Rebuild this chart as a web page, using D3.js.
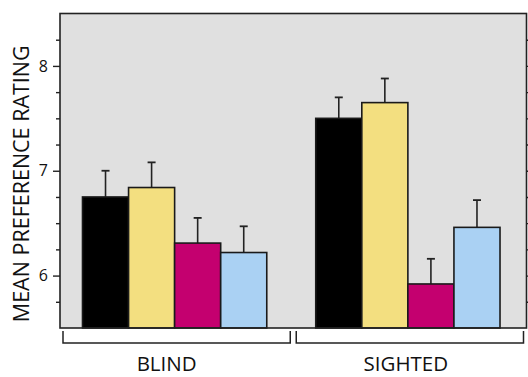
<!DOCTYPE html>
<html>
<head>
<meta charset="utf-8">
<script src="https://cdn.jsdelivr.net/npm/d3@7"></script>
<style>
  html, body { margin: 0; padding: 0; background: #fff; }
  svg { display: block; font-family: "Open Sans", "Noto Sans", sans-serif; }
</style>
</head>
<body>
<svg id="chart" width="528" height="377"></svg>
<script>
// Groups and conditions
const groups = ["BLIND", "SIGHTED"];
const conditions = ["c1", "c2", "c3", "c4"];
const colors = ["#000000", "#f3df80", "#c4006f", "#aad1f3"];

// Mean preference rating per group (one value per condition)
const blindMeans   = [6.75, 6.84, 6.31, 6.22];
const sightedMeans = [7.50, 7.65, 5.92, 6.46];
// Upper error (mean + error)
const blindErr   = [0.25, 0.24, 0.24, 0.25];
const sightedErr = [0.20, 0.23, 0.24, 0.26];

const yDomain = [5.5, 8.5];
const majorTicks = [6, 7, 8];
const minorTicks = [5.75, 6.25, 6.5, 6.75, 7.25, 7.5, 7.75, 8.25];
const yTitle = "MEAN PREFERENCE RATING";

const rows = groups.map((g, i) => ({
  group: g,
  values: conditions.map((c, j) => ({
    cond: c,
    color: colors[j],
    mean: (i === 0 ? blindMeans : sightedMeans)[j],
    err: (i === 0 ? blindErr : sightedErr)[j]
  }))
}));

const svg = d3.select("#chart");
const frame = { left: 60, right: 526.5, top: 13.5, bottom: 328 };

const y = d3.scaleLinear().domain(yDomain).range([frame.bottom, frame.top]);
const x0 = d3.scaleBand().domain(groups).range([frame.left - 2, frame.right - 2])
  .paddingInner(0.21).paddingOuter(0.105);
const x1 = d3.scaleBand().domain(conditions).range([0, x0.bandwidth()]);

// Plot background
svg.append("rect")
  .attr("x", frame.left).attr("y", frame.top)
  .attr("width", frame.right - frame.left).attr("height", frame.bottom - frame.top)
  .attr("fill", "#e0e0e0");

// Bars
const g = svg.append("g");
const groupSel = g.selectAll("g.grp").data(rows).join("g")
  .attr("class", "grp")
  .attr("transform", d => `translate(${x0(d.group)},0)`);

// Error bars (drawn under bars so the stem starts at the bar top)
groupSel.selectAll("g.err").data(d => d.values).join("g")
  .attr("class", "err")
  .each(function(d) {
    const cx = x1(d.cond) + x1.bandwidth() / 2;
    const sel = d3.select(this);
    sel.append("line")
      .attr("x1", cx).attr("x2", cx)
      .attr("y1", y(d.mean)).attr("y2", y(d.mean + d.err))
      .attr("stroke", "#222").attr("stroke-width", 1.6);
    sel.append("line")
      .attr("x1", cx - 4).attr("x2", cx + 4)
      .attr("y1", y(d.mean + d.err)).attr("y2", y(d.mean + d.err))
      .attr("stroke", "#222").attr("stroke-width", 1.8);
  });

groupSel.selectAll("rect").data(d => d.values).join("rect")
  .attr("x", d => x1(d.cond))
  .attr("y", d => y(d.mean))
  .attr("width", x1.bandwidth())
  .attr("height", d => y(yDomain[0]) - y(d.mean))
  .attr("fill", d => d.color)
  .attr("stroke", "#1a1a1a")
  .attr("stroke-width", 1.6);

// Frame
svg.append("rect")
  .attr("x", frame.left).attr("y", frame.top)
  .attr("width", frame.right - frame.left).attr("height", frame.bottom - frame.top)
  .attr("fill", "none").attr("stroke", "#222").attr("stroke-width", 1.6);

// Left axis: major ticks with labels, minor ticks without
const yAxisMajor = d3.axisLeft(y).tickValues(majorTicks).tickSize(7).tickFormat(d3.format("d"));
const yAxisMinor = d3.axisLeft(y).tickValues(minorTicks).tickSize(4).tickFormat("");
const axMaj = svg.append("g").attr("transform", `translate(${frame.left},0)`).call(yAxisMajor);
const axMin = svg.append("g").attr("transform", `translate(${frame.left},0)`).call(yAxisMinor);
[axMaj, axMin].forEach(a => {
  a.select(".domain").remove();
  a.selectAll(".tick line").attr("stroke", "#222").attr("stroke-width", 1.4);
});
axMaj.selectAll(".tick text")
  .attr("x", -12)
  .attr("font-size", 16)
  .attr("font-family", "'Open Sans', sans-serif")
  .attr("fill", "#111");

// Right side outward ticks
const yAxisRight = d3.axisRight(y).tickValues(majorTicks.concat(minorTicks)).tickSize(4).tickFormat("");
const axR = svg.append("g").attr("transform", `translate(${frame.right},0)`).call(yAxisRight);
axR.select(".domain").remove();
axR.selectAll(".tick line").attr("stroke", "#222").attr("stroke-width", 1.4);

// Y-axis title
svg.append("text")
  .attr("transform", `translate(28.5,${(frame.top + frame.bottom) / 2 + 13}) rotate(-90)`)
  .attr("text-anchor", "middle")
  .attr("font-size", 21.5)
  .attr("fill", "#111")
  .text(yTitle);

// Group brackets and labels
const half = (frame.right - frame.left) / 2;
const bracketTop = 331, bracketY = 343;
const labelNudge = [-8, -2];
groups.forEach((grp, i) => {
  const bx0 = frame.left + i * half + 3;
  const bx1 = frame.left + (i + 1) * half - 3;
  svg.append("path")
    .attr("d", `M${bx0},${bracketTop}V${bracketY}H${bx1}V${bracketTop}`)
    .attr("fill", "none").attr("stroke", "#222").attr("stroke-width", 1.5);
  svg.append("text")
    .attr("x", x0(grp) + x0.bandwidth() / 2 + labelNudge[i])
    .attr("y", 371)
    .attr("text-anchor", "middle")
    .attr("font-size", 20.5)
    .attr("fill", "#111")
    .text(grp);
});
</script>
</body>
</html>
